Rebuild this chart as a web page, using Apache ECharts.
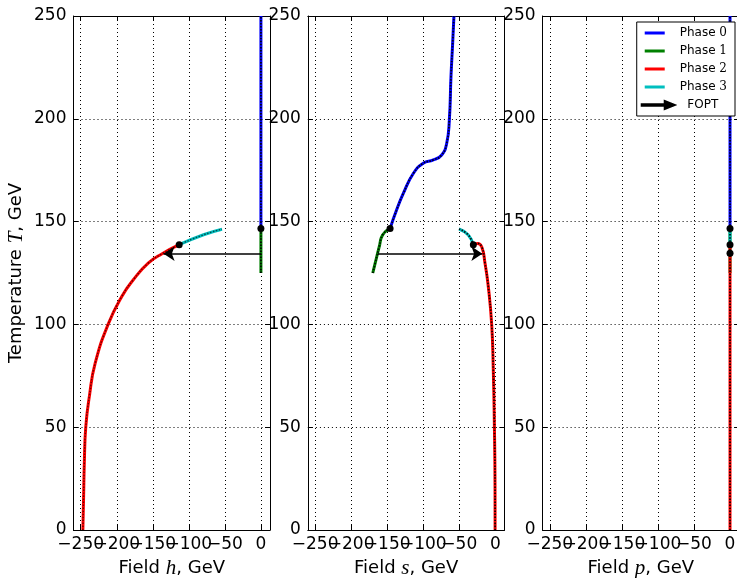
<!DOCTYPE html>
<html lang="en">
<head>
<meta charset="UTF-8">
<title>Phase structure vs temperature</title>
<script src="https://cdn.jsdelivr.net/npm/echarts@6/dist/echarts.min.js"></script>
<style>
  html, body { margin: 0; padding: 0; background: #fff; }
  #chart { width: 737px; height: 578px; }
</style>
</head>
<body>
<div id="chart"></div>
<script>
// ticks shared by the three panels
const fieldTicks = [-250, -200, -150, -100, -50, 0]
// labels are split over two axes so none of them gets dropped for overlapping
const fieldLabelsA = [-250, -150, -50]
const fieldLabelsB = [-200, -100, 0]
const tempTicks = [0, 50, 100, 150, 200, 250]
const fieldNames = ['h', 's', 'p']

// phase curves as [field, T] pairs
const phase0H = [[0, 146.6], [0, 250]]
const phase0S = [[-146, 146.6], [-137, 155.6], [-127.5, 163.8], [-113.6, 173.5], [-100, 178.4],
                 [-86, 180], [-74.4, 182.4], [-67.5, 188], [-63.8, 199.4], [-61.5, 220.5],
                 [-59.2, 236.7], [-57.4, 250]]
const phase0P = [[0, 146.6], [0, 250]]

const phase1H = [[0, 125], [0, 146.6]]
const phase1S = [[-170, 125], [-166.5, 130], [-161, 137.8], [-156.4, 143.5], [-146.5, 146.6]]
const phase1P = [[0, 125], [0, 146.6]]

const phase2H = [[-247, 0], [-246, 16], [-245, 32.5], [-243, 50], [-238, 65], [-230, 81],
                 [-212, 100], [-193, 113.6], [-177, 121.7], [-156, 129.9], [-137, 134.4], [-113.4, 138.8]]
const phase2S = [[-0.3, 0], [-0.4, 21], [-1.4, 53.5], [-2.8, 77.8], [-5, 99.7], [-9.7, 118.3],
                 [-14.3, 129.7], [-18.9, 137.8], [-25, 139.4], [-30.5, 138.6]]
const phase2P = [[0, 0], [0, 138.8]]

const phase3H = [[-113.4, 138.8], [-79.6, 143.6], [-54, 146.3]]
const phase3S = [[-30.5, 138.6], [-37.5, 143.5], [-50.4, 146.4]]
const phase3P = [[0, 138.8], [0, 146.6]]

// transition points
const dotsH = [[0, 146.6], [-113.4, 138.8]]
const dotsS = [[-146, 146.6], [-30.5, 138.8]]
const dotsP = [[0, 146.6], [0, 138.8], [0, 134.6]]

// first-order transition arrows [from, to]
const foptH = [[0, 134.4], [-135, 134.4]]
const foptS = [[-163, 134.4], [-18, 134.4]]

const phaseColors = ['#0000ff', '#008000', '#ff0000', '#00bfbf']
const phaseData = [
    [phase0H, phase0S, phase0P],
    [phase1H, phase1S, phase1P],
    [phase2H, phase2S, phase2P],
    [phase3H, phase3S, phase3P],
]
const dots = [dotsH, dotsS, dotsP]
const fopt = [foptH, foptS, null]

const panelLeft = [73.5, 307.9, 542.6]
const panelWidth = 196.5
const fmt = v => v < 0 ? '\u2212' + (-v) : String(v)
const black = '#000'
const tickFont = 17

const grids = panelLeft.map(left => ({
    left, top: 16, width: panelWidth, height: 514,
    containLabel: false, outerBoundsMode: 'none'
}))

const nameStyle = {
    fontFamily: 'DejaVu Sans', fontSize: 18, color: black,
    rich: { i: { fontFamily: 'Liberation Serif', fontStyle: 'italic', fontSize: 21, color: black } }
}
const labelStyle = (values) => ({
    customValues: values, formatter: fmt, fontFamily: 'DejaVu Sans', fontSize: tickFont,
    color: black, margin: 6, hideOverlap: false, showMinLabel: true, showMaxLabel: true
})

const xAxes = []
const yAxes = []
// main axes (bottom / left) with labels
for (let k = 0; k < 3; k++) {
    xAxes.push({
        gridIndex: k, type: 'value', min: -260, max: 12.6, position: 'bottom',
        name: 'Field {i|' + fieldNames[k] + '}, GeV', nameLocation: 'middle', nameGap: 25,
        nameTextStyle: nameStyle,
        axisLine: { onZero: false, lineStyle: { color: black, width: 1 } },
        axisTick: { inside: true, length: 5, customValues: fieldTicks, lineStyle: { color: black } },
        axisLabel: labelStyle(fieldLabelsA),
        splitLine: { show: true, customValues: fieldTicks, lineStyle: { color: black, width: 1, type: [1, 3] } }
    })
    yAxes.push({
        gridIndex: k, type: 'value', min: 0, max: 250, interval: 50, position: 'left',
        name: k === 0 ? 'Temperature {i|T}, GeV' : '', nameLocation: 'middle', nameGap: 47,
        nameTextStyle: nameStyle,
        axisLine: { onZero: false, lineStyle: { color: black, width: 1 } },
        axisTick: { inside: true, length: 5, lineStyle: { color: black } },
        axisLabel: { fontFamily: 'DejaVu Sans', fontSize: tickFont, color: black, margin: 7,
                     showMinLabel: true, showMaxLabel: true, hideOverlap: false },
        splitLine: { show: true, lineStyle: { color: black, width: 1, type: [1, 3] } }
    })
}
// mirrored axes (top / right), ticks only
for (let k = 0; k < 3; k++) {
    xAxes.push({
        gridIndex: k, type: 'value', min: -260, max: 12.6, position: 'top',
        axisLine: { onZero: false, lineStyle: { color: black, width: 1 } },
        axisTick: { inside: true, length: 5, customValues: fieldTicks, lineStyle: { color: black } },
        axisLabel: { show: false }, splitLine: { show: false }
    })
    yAxes.push({
        gridIndex: k, type: 'value', min: 0, max: 250, interval: 50, position: 'right',
        axisLine: { onZero: false, lineStyle: { color: black, width: 1 } },
        axisTick: { inside: true, length: 5, lineStyle: { color: black } },
        axisLabel: { show: false }, splitLine: { show: false }
    })
}
// second set of bottom labels
for (let k = 0; k < 3; k++) {
    xAxes.push({
        gridIndex: k, type: 'value', min: -260, max: 12.6, position: 'bottom',
        axisLine: { show: false, onZero: false }, axisTick: { show: false },
        axisLabel: labelStyle(fieldLabelsB), splitLine: { show: false }
    })
}

const series = []
phaseData.forEach((perPanel, p) => {
    perPanel.forEach((data, k) => {
        // the long curved stretches in the h panel look lighter in the original
        const light = k === 0 && p >= 2
        series.push({
            type: 'line', name: 'Phase ' + p, data, xAxisIndex: k, yAxisIndex: k,
            symbol: 'none', smooth: 0.5, z: 2 + p,
            lineStyle: { color: phaseColors[p], width: 3 },
            itemStyle: { color: phaseColors[p] }
        })
        // dark dotted overlay, like the marker trail in the original
        series.push({
            type: 'line', name: 'trail', data, xAxisIndex: k, yAxisIndex: k,
            symbol: 'none', smooth: 0.5, z: 2 + p, silent: true,
            lineStyle: { color: black, width: light ? 1.4 : 1.8, type: [1.5, 1.5], opacity: light ? 0.6 : 0.9 }
        })
    })
})
dots.forEach((data, k) => {
    series.push({
        type: 'scatter', name: 'points', data, xAxisIndex: k, yAxisIndex: k,
        symbolSize: 7, z: 10, itemStyle: { color: black, opacity: 1 }
    })
})
fopt.forEach((pair, k) => {
    if (!pair) return
    series.push({
        type: 'lines', name: 'FOPT', coordinateSystem: 'cartesian2d', xAxisIndex: k, yAxisIndex: k,
        data: [{ coords: pair }], symbol: ['none', 'arrow'], symbolSize: 11, z: 11,
        lineStyle: { color: black, width: 1.5, opacity: 1, curveness: 0 },
        itemStyle: { color: black }
    })
})

// legend handles drawn inside a 33 x 8 box: bar for phases, arrow for FOPT
const barIcon = 'path://M0,0L0,0M33,8L33,8M3,2.5L23,2.5L23,5.5L3,5.5Z'
const arrowIcon = 'path://M0,3.3L23,3.3L23,0L33,4L23,8L23,4.7L0,4.7Z'
const legendNames = ['Phase 0', 'Phase 1', 'Phase 2', 'Phase 3', 'FOPT']

const option = {
    animation: false,
    backgroundColor: '#fff',
    grid: grids,
    xAxis: xAxes,
    yAxis: yAxes,
    legend: {
        right: 2, top: 22, orient: 'vertical', selectedMode: false,
        backgroundColor: '#fff', borderColor: black, borderWidth: 1, borderRadius: 0,
        padding: [5, 8, 5, 4], itemWidth: 33, itemHeight: 8, itemGap: 6, itemTextGap: 4,
        symbolKeepAspect: true,
        data: legendNames.map(n => ({ name: n, icon: n === 'FOPT' ? arrowIcon : barIcon })),
        formatter: n => n.startsWith('Phase') ? 'Phase {m|' + n.slice(6) + '}' : '  ' + n,
        textStyle: {
            fontFamily: 'DejaVu Sans', fontSize: 12, color: black,
            rich: { m: { fontFamily: 'DejaVu Serif', fontSize: 12, color: black } }
        }
    },
    series
}

const chart = echarts.init(document.getElementById('chart'), null, { renderer: 'canvas' })
chart.setOption(option)
</script>
</body>
</html>
